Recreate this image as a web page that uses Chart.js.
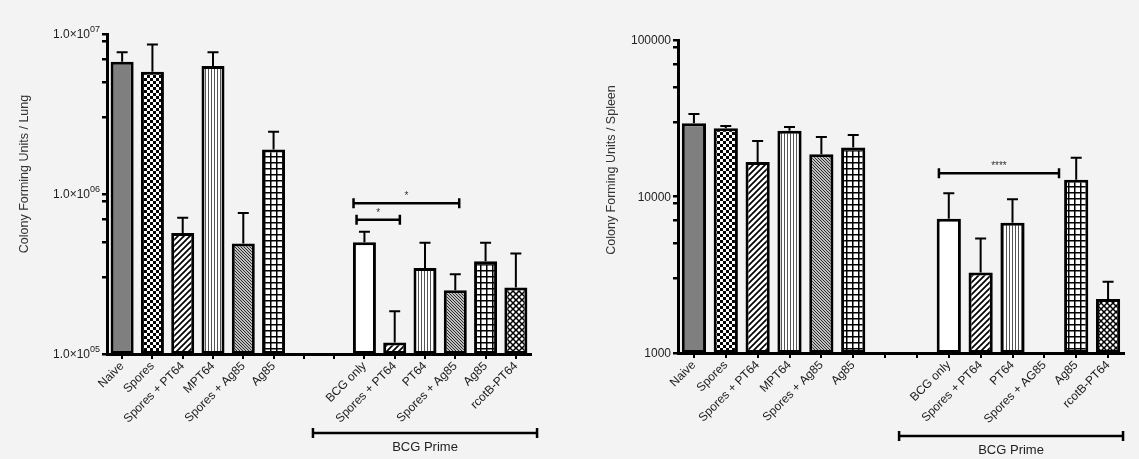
<!DOCTYPE html>
<html>
<head>
<meta charset="utf-8">
<script src="https://cdn.jsdelivr.net/npm/chart.js@4.4.0/dist/chart.umd.min.js"></script>
<style>
  body { margin:0; background:#f3f3f3; width:1139px; height:459px; overflow:hidden; position:relative; }
  .box { position:absolute; top:0; height:459px; }
  #lungBox { left:0; width:565px; }
  #spleenBox { left:570px; width:569px; }
</style>
</head>
<body>
<div class="box" id="lungBox"><canvas id="lung"></canvas></div>
<div class="box" id="spleenBox"><canvas id="spleen"></canvas></div>
<script>
// categories (two empty slots separate the BCG prime group)
var lungLabels = ["Naive", "Spores", "Spores + PT64", "MPT64", "Spores + Ag85", "Ag85", "", "",
  "BCG only", "Spores + PT64", "PT64", "Spores + Ag85", "Ag85", "rcotB-PT64"];
var spleenLabels = ["Naive", "Spores", "Spores + PT64", "MPT64", "Spores + Ag85", "Ag85", "", "",
  "BCG only", "Spores + PT64", "PT64", "Spores + AG85", "Ag85", "rcotB-PT64"];

// CFU means and top of the error bar
var lungMean = [6.7e6, 5.8e6, 5.7e5, 6.3e6, 4.9e5, 1.9e6, null, null, 5.0e5, 1.18e5, 3.45e5, 2.5e5, 3.8e5, 2.6e5];
var lungUpper = [7.7e6, 8.6e6, 7.1e5, 7.7e6, 7.6e5, 2.45e6, null, null, 5.8e5, 1.85e5, 4.95e5, 3.15e5, 4.95e5, 4.25e5];
var spleenMean = [29400, 27300, 16600, 26300, 18600, 20600, null, null, 7200, 3270, 6800, null, 12800, 2210];
var spleenUpper = [33700, 28200, 22600, 27800, 24000, 24700, null, null, 10500, 5400, 9600, null, 17700, 2850];

// fill style of each bar
var fills = ["gray", "checker", "hatch", "vlines", "fine", "grid", "white", "white",
  "white", "hatch", "vlines", "fine", "grid", "diamond"];

// axis ticks; labels are [text, superscript]
var lungTicks = [1e5, 1e6, 1e7];
var lungTickLabels = [["1.0\u00d710", "05"], ["1.0\u00d710", "06"], ["1.0\u00d710", "07"]];
var spleenTicks = [1000, 10000, 100000];
var spleenTickLabels = [["1000", ""], ["10000", ""], ["100000", ""]];
var minorSteps = [3, 5, 7, 9];

// significance brackets: from index, to index, height, stars
var lungSig = [[7.74, 9.17, 6.9e5, "*"], [7.64, 11.13, 8.75e5, "*"]];
var spleenSig = [[7.69, 11.46, 14100, "****"]];

var FONT = "'Liberation Sans', Arial, Helvetica, sans-serif";

function makeFill(kind) {
  if (kind === "gray") return "#7f7f7f";
  if (kind === "white") return "#ffffff";
  var s = (kind === "fine" || kind === "vlines") ? 3 : 6;
  var c = document.createElement("canvas");
  c.width = s; c.height = s;
  var g = c.getContext("2d");
  g.fillStyle = "#fff";
  g.fillRect(0, 0, s, s);
  g.fillStyle = "#000";
  g.strokeStyle = "#000";
  if (kind === "checker") {
    g.fillRect(0, 0, 3, 3);
    g.fillRect(3, 3, 3, 3);
  } else if (kind === "hatch") {
    g.lineWidth = 1.7;
    g.beginPath();
    g.moveTo(-1, 7); g.lineTo(7, -1);
    g.moveTo(-2, 2); g.lineTo(2, -2);
    g.moveTo(4, 8); g.lineTo(8, 4);
    g.stroke();
  } else if (kind === "vlines") {
    g.fillStyle = "#555";
    g.fillRect(1, 0, 1, s);
  } else if (kind === "fine") {
    g.strokeStyle = "#222";
    g.lineWidth = 1.1;
    g.beginPath();
    g.moveTo(-1, -1); g.lineTo(4, 4);
    g.moveTo(-1, 2); g.lineTo(1, 4);
    g.moveTo(2, -1); g.lineTo(4, 1);
    g.stroke();
  } else if (kind === "grid") {
    g.fillRect(0, 0, s, 1.5);
    g.fillRect(0, 0, 1.5, s);
  } else if (kind === "diamond") {
    g.lineWidth = 1.5;
    g.beginPath();
    g.moveTo(-1, -1); g.lineTo(7, 7);
    g.moveTo(-1, 7); g.lineTo(7, -1);
    g.stroke();
  }
  return g.createPattern(c, "repeat");
}

function makeOverlay(cfg) {
  return {
    id: "overlay",
    afterDatasetsDraw: function(chart) {
      var x = chart.scales.x, y = chart.scales.y, ctx = chart.ctx;
      ctx.save();
      // error bars (upper half only)
      ctx.strokeStyle = "#000";
      ctx.lineWidth = 2;
      cfg.mean.forEach(function(m, i) {
        if (m == null) return;
        var px = x.getPixelForValue(i);
        var y0 = y.getPixelForValue(m), y1 = y.getPixelForValue(cfg.upper[i]);
        ctx.beginPath();
        ctx.moveTo(px, y0); ctx.lineTo(px, y1);
        ctx.moveTo(px - 5.5, y1); ctx.lineTo(px + 5.5, y1);
        ctx.stroke();
      });
      // y tick labels
      ctx.fillStyle = "#222";
      ctx.textBaseline = "middle";
      ctx.textAlign = "left";
      cfg.ticks.forEach(function(t, i) {
        var py = y.getPixelForValue(t);
        var base = cfg.tickLabels[i][0], sup = cfg.tickLabels[i][1];
        ctx.font = "12px " + FONT;
        var wb = ctx.measureText(base).width;
        ctx.font = "9px " + FONT;
        var ws = ctx.measureText(sup).width;
        var left = y.right - 7 - wb - ws;
        ctx.font = "12px " + FONT;
        ctx.fillText(base, left, py + 1);
        ctx.font = "9px " + FONT;
        ctx.fillText(sup, left + wb, py - 4);
      });
      // significance brackets
      ctx.lineWidth = 2.5;
      ctx.fillStyle = "#333";
      ctx.font = "10px " + FONT;
      ctx.textAlign = "center";
      ctx.textBaseline = "alphabetic";
      cfg.sig.forEach(function(b) {
        var xa = x.getPixelForValue(b[0]), xb = x.getPixelForValue(b[1]), py = y.getPixelForValue(b[2]);
        ctx.beginPath();
        ctx.moveTo(xa, py); ctx.lineTo(xb, py);
        ctx.moveTo(xa, py - 5); ctx.lineTo(xa, py + 5);
        ctx.moveTo(xb, py - 5); ctx.lineTo(xb, py + 5);
        ctx.stroke();
        ctx.fillText(b[3], (xa + xb) / 2, py - 4);
      });
      // BCG Prime group bracket
      var ga = x.getPixelForValue(cfg.group[0]), gb = x.getPixelForValue(cfg.group[1]);
      var gy = chart.chartArea.bottom + cfg.groupDrop;
      ctx.beginPath();
      ctx.moveTo(ga, gy); ctx.lineTo(gb, gy);
      ctx.moveTo(ga, gy - 5); ctx.lineTo(ga, gy + 5);
      ctx.moveTo(gb, gy - 5); ctx.lineTo(gb, gy + 5);
      ctx.stroke();
      ctx.fillStyle = "#222";
      ctx.font = "13px " + FONT;
      ctx.textBaseline = "top";
      ctx.fillText("BCG Prime", (ga + gb) / 2, gy + 8);
      // y-axis title
      ctx.translate(cfg.titleX, cfg.titleY);
      ctx.rotate(-Math.PI / 2);
      ctx.textBaseline = "middle";
      ctx.font = "12.5px " + FONT;
      ctx.fillStyle = "#333";
      ctx.fillText(cfg.title, 0, 0);
      ctx.restore();
    }
  };
}

function buildChart(id, cfg) {
  var allTicks = [];
  cfg.ticks.forEach(function(t, i) {
    allTicks.push(t);
    if (i < cfg.ticks.length - 1) minorSteps.forEach(function(m) { allTicks.push(t * m); });
  });
  return new Chart(document.getElementById(id), {
    type: "bar",
    data: {
      labels: cfg.labels,
      datasets: [{
        data: cfg.mean,
        backgroundColor: fills.map(makeFill),
        borderColor: "#000",
        borderWidth: 3,
        borderSkipped: false,
        barPercentage: 0.76,
        categoryPercentage: 1
      }]
    },
    options: {
      responsive: true,
      maintainAspectRatio: false,
      animation: false,
      layout: { padding: { top: cfg.top, right: cfg.right, left: 0, bottom: 0 } },
      plugins: { legend: { display: false }, tooltip: { enabled: false } },
      scales: {
        x: {
          grid: { drawOnChartArea: false, offset: false, tickLength: 5, color: "#000", lineWidth: 2 },
          border: { color: "#000", width: 3 },
          ticks: { color: "#1a1a1a", font: { size: 12, family: FONT }, minRotation: 45, maxRotation: 45, autoSkip: false, padding: 0 },
          afterFit: function(s) { s.height = cfg.xHeight; }
        },
        y: {
          type: "logarithmic",
          min: cfg.ticks[0],
          max: cfg.ticks[cfg.ticks.length - 1],
          afterBuildTicks: function(s) { s.ticks = allTicks.map(function(v) { return { value: v }; }); },
          grid: { drawOnChartArea: false, tickLength: 5, color: "#000", lineWidth: 2.5 },
          border: { color: "#000", width: 3 },
          ticks: { autoSkip: false, display: false },
          afterFit: function(s) { s.width = cfg.yWidth; }
        }
      }
    },
    plugins: [makeOverlay(cfg)]
  });
}

buildChart("lung", {
  labels: lungLabels, mean: lungMean, upper: lungUpper, sig: lungSig,
  ticks: lungTicks, tickLabels: lungTickLabels,
  top: 34, right: 34, yWidth: 107, xHeight: 105,
  group: [6.3, 13.7], groupDrop: 79,
  title: "Colony Forming Units / Lung", titleX: 25, titleY: 174
});
buildChart("spleen", {
  labels: spleenLabels, mean: spleenMean, upper: spleenUpper, sig: spleenSig,
  ticks: spleenTicks, tickLabels: spleenTickLabels,
  top: 40, right: 15, yWidth: 108, xHeight: 106,
  group: [6.44, 13.47], groupDrop: 83,
  title: "Colony Forming Units / Spleen", titleX: 42, titleY: 170
});
</script>
</body>
</html>
